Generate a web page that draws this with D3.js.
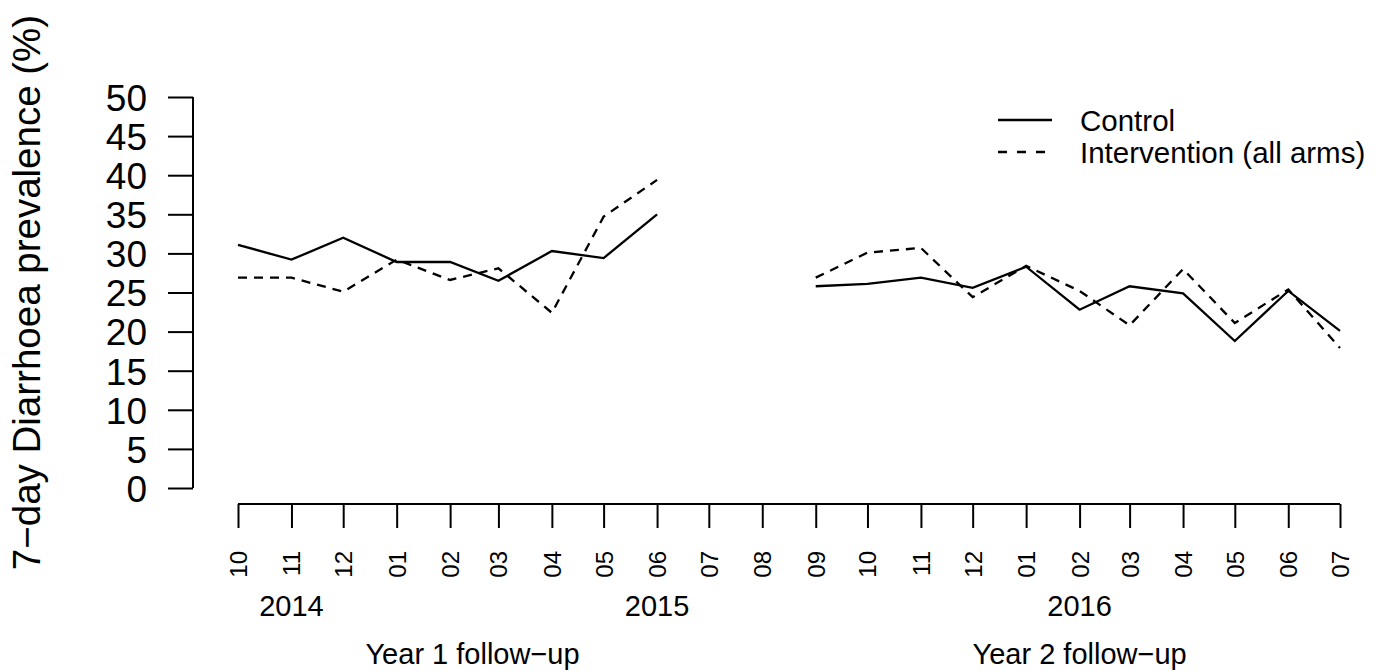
<!DOCTYPE html>
<html lang="en">
  <head>
    <meta charset="utf-8">
    <title>7-day Diarrhoea prevalence</title>
    <style type="text/css">
      body{
        margin: 0;
        background: white;
      }
      text{
        font-family: "Liberation Sans", Arial, sans-serif;
        fill: black;
      }
    </style>
    <script src="https://cdn.jsdelivr.net/npm/d3@7"></script>
  </head>
  <body>
    <div class="chart"></div>
    <script type="text/javascript">
      //month of each survey round, year 1 and year 2
      var months1 = ["2014-10", "2014-11", "2014-12", "2015-01", "2015-02", "2015-03", "2015-04", "2015-05", "2015-06"];
      var months2 = ["2015-09", "2015-10", "2015-11", "2015-12", "2016-01", "2016-02", "2016-03", "2016-04", "2016-05", "2016-06", "2016-07"];

      //prevalence (%) per round
      var control1 = [31.1, 29.2, 32.0, 28.9, 28.9, 26.5, 30.3, 29.4, 35.0];
      var interv1 = [26.9, 26.9, 25.1, 29.2, 26.6, 28.1, 22.4, 34.7, 39.4];
      var control2 = [25.8, 26.1, 26.9, 25.6, 28.3, 22.8, 25.8, 24.9, 18.8, 25.2, 20.1];
      var interv2 = [26.9, 30.1, 30.7, 24.4, 28.4, 25.2, 20.8, 28.0, 21.1, 25.4, 17.9];

      //y axis ticks
      var yTicks = [0, 5, 10, 15, 20, 25, 30, 35, 40, 45, 50];

      //year labels and where they sit
      var yearLabels = [["2014", "2014-11"], ["2015", "2015-06"], ["2016", "2016-02"]];
      var periodLabels = [["Year 1 follow\u2212up", "2015-02-14"], ["Year 2 follow\u2212up", "2016-02"]];

      var legendNames = ["Control", "Intervention (all arms)"];

      var width = 1383;
      var height = 671;

      var parse = d3.utcParse("%Y-%m");
      var parseDay = d3.utcParse("%Y-%m-%d");
      function toDate(s){
        return s.length > 7 ? parseDay(s) : parse(s);
      }

      var svg = d3.select(".chart")
        .append("svg")
        .attr("width", width)
        .attr("height", height);

      //scales
      var x = d3.scaleUtc()
        .domain([parse("2014-10"), parse("2016-07")])
        .range([238, 1340]);

      var y = d3.scaleLinear()
        .domain([0, 50])
        .range([488, 97]);

      //y axis
      var yAxis = svg.append("g")
        .attr("transform", "translate(193,0)")
        .call(d3.axisLeft(y).tickValues(yTicks).tickSize(25).tickPadding(21).tickFormat(d3.format("d")));
      yAxis.select(".domain").attr("d", "M0," + y(0) + "V" + y(50)).attr("stroke-width", 2);
      yAxis.selectAll(".tick line").attr("stroke-width", 2);
      yAxis.selectAll(".tick text")
        .attr("font-size", 37)
        .attr("font-family", "Liberation Sans, Arial, sans-serif")
        .attr("dy", "0.36em");

      //x axis, one tick per month
      var allMonths = d3.utcMonth.range(parse("2014-10"), d3.utcMonth.offset(parse("2016-07"), 1));
      var xAxis = svg.append("g")
        .attr("transform", "translate(0,504)")
        .call(d3.axisBottom(x).tickValues(allMonths).tickSize(24).tickFormat(d3.utcFormat("%m")));
      xAxis.select(".domain").attr("d", "M" + x(allMonths[0]) + ",0H" + x(allMonths[allMonths.length - 1])).attr("stroke-width", 2);
      xAxis.selectAll(".tick line").attr("stroke-width", 2);
      xAxis.selectAll(".tick text")
        .attr("font-size", 24)
        .attr("font-family", "Liberation Sans, Arial, sans-serif")
        .attr("text-anchor", "end")
        .attr("dy", null)
        .attr("dominant-baseline", "central")
        .attr("transform", "translate(0,47) rotate(-90)")
        .attr("x", 0)
        .attr("y", 0);

      //year labels
      svg.selectAll(".year")
        .data(yearLabels)
        .enter()
        .append("text")
        .attr("class", "year")
        .attr("x", d => x(toDate(d[1])))
        .attr("y", 616)
        .attr("text-anchor", "middle")
        .attr("font-size", 29)
        .text(d => d[0]);

      svg.selectAll(".period")
        .data(periodLabels)
        .enter()
        .append("text")
        .attr("class", "period")
        .attr("x", d => x(toDate(d[1])))
        .attr("y", 664)
        .attr("text-anchor", "middle")
        .attr("font-size", 29)
        .text(d => d[0]);

      //y title
      svg.append("text")
        .attr("transform", "translate(40," + ((y(0) + y(50)) / 2) + ") rotate(-90)")
        .attr("text-anchor", "middle")
        .attr("font-size", 38.5)
        .text("7\u2212day Diarrhoea prevalence (%)");

      //lines
      var line = d3.line()
        .x(d => x(parse(d[0])))
        .y(d => y(d[1]));

      var series = [
        [months1, control1, null],
        [months1, interv1, "9,7"],
        [months2, control2, null],
        [months2, interv2, "9,7"]
      ];

      svg.selectAll(".series")
        .data(series)
        .enter()
        .append("path")
        .attr("class", "series")
        .attr("fill", "none")
        .attr("stroke", "black")
        .attr("stroke-width", 2.3)
        .attr("stroke-dasharray", d => d[2])
        .attr("d", d => line(d3.zip(d[0], d[1])));

      //legend
      var legend = svg.append("g");
      legendNames.forEach(function(name, i){
        legend.append("line")
          .attr("x1", 998)
          .attr("x2", 1052)
          .attr("y1", 120 + i * 32)
          .attr("y2", 120 + i * 32)
          .attr("stroke", "black")
          .attr("stroke-width", 2.3)
          .attr("stroke-dasharray", i == 1 ? "9,10" : null);
        legend.append("text")
          .attr("x", 1080)
          .attr("y", 120 + i * 32)
          .attr("dy", "0.36em")
          .attr("font-size", 29.5)
          .text(name);
      });
    </script>
  </body>
</html>
